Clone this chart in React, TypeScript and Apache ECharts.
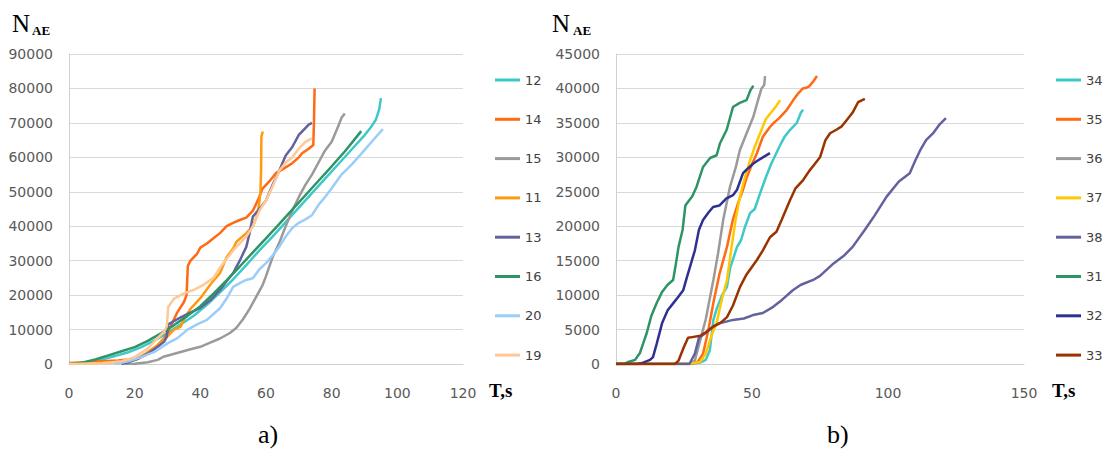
import React, { useEffect, useRef } from "react";
import * as echarts from "echarts";

// ---------- Chart a) ----------
const namesA = ["12", "14", "15", "11", "13", "16", "20", "19"];
const colorsA = ["#3EC8C8", "#FF6A13", "#9A9A9A", "#FF9A10", "#62629E", "#2E9465", "#9ACDFA", "#FFC896"];

const a12 = [[0,0],[3,200],[6,600],[10,1300],[14,2300],[18,3400],[22,4900],[26,6800],[30,9000],[34,11500],[38,14000],[42,17200],[46,20800],[50,24600],[54,28700],[58,33000],[62,37000],[66,41200],[70,45400],[74,49600],[78,53800],[82,58000],[86,62200],[90,66400],[92,68800],[93.5,71000],[94.5,74000],[95,77200]];
const a14 = [[0,300],[5,500],[10,800],[15,1000],[20,1500],[23,2500],[26,4500],[29,7500],[31,11000],[33,15000],[35,18000],[35.8,20000],[36.2,28500],[37,30000],[39,32000],[40,33800],[42,35000],[44,36500],[46,38000],[48,40000],[50,41000],[52,41800],[54,42500],[56,44500],[57.5,47500],[59,51000],[61,53000],[63,55400],[65,56500],[68,58300],[70,60000],[71,61200],[73,62500],[74.4,63600],[74.6,70000],[74.8,80000]];
const a15 = [[17,0],[20,100],[24,500],[27,1200],[29,2200],[31,2700],[34,3500],[37,4300],[40,5000],[43,6200],[46,7400],[49,9000],[51,10500],[53,13000],[55,16000],[57,19500],[59,23000],[60,25500],[62,31000],[64,35100],[66,40000],[68,44500],[70,48500],[72,52000],[74,55000],[76,58500],[78,62000],[80,64500],[82,69000],[83,71500],[84,72700]];
const a11 = [[0,200],[8,300],[14,500],[18,800],[21,1500],[24,3500],[27,5500],[30,8000],[32,10000],[34,10800],[35,13000],[37,16000],[40,19100],[43,23000],[46,26400],[48,31000],[50,33500],[51,35500],[54,38000],[56,40000],[57.2,42800],[58,47000],[58.3,50000],[58.5,56000],[58.6,66000],[59,67500]];
const a13 = [[16,0],[18,500],[21,1500],[24,3000],[27,5000],[29,6500],[29.8,8000],[30.2,11500],[33,13000],[36,14500],[40,16300],[43,18500],[46,21500],[48,24000],[50,26400],[52,30000],[54,34000],[55,38000],[56,42800],[58,45000],[60,47500],[62,52000],[64,56000],[66,60500],[68,63000],[70,66500],[72,68500],[73,69500],[74,70000]];
const a16 = [[0,0],[4,400],[8,1300],[12,2500],[16,3700],[20,4900],[24,6700],[28,8900],[32,11300],[36,13900],[40,16800],[44,20400],[48,24300],[52,28300],[56,32400],[60,36500],[64,40600],[68,44800],[72,49000],[76,53200],[80,57400],[84,61700],[89,67600]];
const a20 = [[14,0],[18,800],[22,2000],[26,3500],[30,6000],[33,7500],[36,9900],[39,11500],[42,12800],[44,14500],[46,16200],[48,19000],[50,22400],[52,23500],[54,24400],[56,24900],[58,27500],[60,29300],[62,31500],[64,34000],[66,37000],[68,39500],[70,41000],[72,42000],[74,43200],[76,46200],[78,48500],[80,51000],[83,55000],[86,57800],[89,61000],[92,64300],[95.6,68200]];
const a19 = [[0,0],[10,200],[16,800],[20,2000],[24,4500],[27,7500],[29,9500],[29.8,11000],[30.2,16500],[32,19000],[35,20500],[38,21500],[41,23000],[44,25000],[46,28000],[48,30500],[50,33000],[52,35000],[54,37000],[56,40000],[58,44500],[60,47500],[62,51500],[64,56000],[66,58500],[68,60000],[70,62500],[72,64500],[74,65500]];
const dataA = [a12, a14, a15, a11, a13, a16, a20, a19];

// ---------- Chart b) ----------
const namesB = ["34", "35", "36", "37", "38", "31", "32", "33"];
const colorsB = ["#3EC8C8", "#FF6A13", "#9A9A9A", "#FFC800", "#62629E", "#2E9465", "#2E3192", "#9A3300"];

const b34 = [[0,0],[28,0],[31,200],[33,600],[34.5,2000],[35.8,6400],[37,8000],[39,10000],[40.8,11200],[42,14000],[44.5,17000],[46,18000],[47.5,20000],[49.3,21900],[51,22500],[53,24800],[55,27000],[57,29000],[60,31500],[62,33000],[64,34000],[66.5,35000],[68,36500],[68.8,36900]];
const b35 = [[0,0],[27,0],[30,300],[32,1500],[34,5000],[35.8,8900],[38,13000],[40.8,17000],[43,21000],[45,23500],[46.7,25300],[48,27000],[50,29000],[51.8,30600],[54,33000],[56.6,34400],[58,35000],[60,35700],[62.8,36900],[65,38200],[67,39300],[68.7,40000],[70,40100],[71,40300],[72.5,41000],[73.9,41800]];
const b36 = [[0,0],[27,0],[29,500],[31,3500],[33,6500],[35.8,12200],[37.5,16000],[39.4,20900],[41.9,25700],[44,28500],[45.5,31000],[47.5,33000],[50.5,35900],[52,38000],[53.5,40000],[54.5,40500],[54.8,41800]];
const b37 = [[0,0],[25,0],[28,100],[31,300],[33,1500],[35,4000],[37,6000],[39,9500],[40.8,12200],[42.5,17000],[44,21000],[45.6,24300],[47,26500],[49.3,29600],[51,31500],[53,33500],[55,35500],[57,36500],[59,37500],[60.3,38300]];
const b38 = [[0,0],[27,0],[29,1500],[30.5,3800],[33,4500],[35.7,5400],[38,5900],[43,6400],[47,6600],[50.4,7100],[54,7400],[57.8,8300],[61,9300],[65,10700],[68,11500],[72.5,12200],[75,12800],[80,14600],[84,15800],[87,17000],[91.5,19500],[95,21500],[99.5,24300],[104,26500],[108,27700],[110,29500],[111.8,31000],[114,32500],[116.6,33500],[119,34800],[121.3,35700]];
const b31 = [[0,0],[3,0],[4.5,300],[7,600],[8.8,1600],[10,3000],[11.3,4500],[13,7000],[15,8900],[17,10500],[19,11500],[21,12200],[22,14500],[23,17000],[24.5,19500],[25.5,23000],[27,23800],[28,24300],[29.6,25700],[32,28600],[34.6,29900],[37,30300],[38.2,32000],[40.7,34000],[43,37300],[45.5,37900],[48,38300],[49.5,39800],[50.5,40400]];
const b32 = [[0,0],[8,0],[10,200],[12.5,600],[13.6,1000],[15,3000],[17,6000],[19,7800],[21,8800],[23,9800],[24.7,10700],[26,12500],[27.5,14500],[29,16500],[30.5,19500],[32,20900],[34,22000],[35.7,22800],[38,23000],[40.5,24000],[43,24500],[44.5,25300],[46.7,27700],[48,28200],[50.5,29100],[52,29500],[54,30000],[56.6,30600]];
const b33 = [[0,0],[21.7,0],[23,500],[25,2500],[26.5,3800],[28,3900],[31,4100],[33,4600],[36,5500],[38.5,6000],[40.8,6800],[43,8500],[45.6,11200],[48,13000],[51.8,15100],[54,16500],[56.6,18400],[59,19200],[61,21000],[64,23800],[66,25500],[68.8,26700],[71,28000],[73,29000],[75,30000],[77,32500],[78.7,33500],[81,34000],[83,34500],[85,35500],[87,36500],[89,38000],[91.5,38500]];
const dataB = [b34, b35, b36, b37, b38, b31, b32, b33];

const axisFont = "DejaVu Sans";
const serif = "Liberation Serif";

export default function App() {
  const ref = useRef<HTMLDivElement>(null);
  useEffect(() => {
    if (!ref.current) return;
    const chart = echarts.init(ref.current, undefined, { renderer: "svg" });

    const plain = (v: number) => String(v);
    const mkX = (gi: number, max: number, interval: number) => ({
      type: "value",
      gridIndex: gi,
      min: 0,
      max,
      interval,
      axisLine: { show: true, lineStyle: { color: "#D0D0D0", width: 1 } },
      axisTick: { show: false },
      splitLine: { show: false },
      axisLabel: { color: "#595959", fontSize: 14, fontFamily: axisFont, margin: 22, formatter: plain },
    });
    const mkY = (gi: number, max: number, interval: number) => ({
      type: "value",
      gridIndex: gi,
      min: 0,
      max,
      interval,
      axisLine: { show: true, lineStyle: { color: "#D0D0D0", width: 1 } },
      axisTick: { show: false },
      splitLine: { show: true, lineStyle: { color: "#D9D9D9", width: 1 } },
      axisLabel: { color: "#595959", fontSize: 14, fontFamily: axisFont, margin: 16, formatter: plain },
    });
    const mkLegend = (names: string[], left: number) => ({
      data: names,
      orient: "vertical",
      left,
      top: 67,
      icon: "rect",
      itemWidth: 25,
      itemHeight: 3,
      itemGap: 23.3,
      selectedMode: false,
      textStyle: { color: "#404040", fontSize: 13, fontFamily: axisFont, lineHeight: 16 },
    });

    const series: any[] = [];
    namesA.forEach((n, i) =>
      series.push({
        name: n,
        type: "line",
        xAxisIndex: 0,
        yAxisIndex: 0,
        data: dataA[i],
        showSymbol: false,
        color: colorsA[i],
        lineStyle: { width: 2.5, color: colorsA[i] },
      })
    );
    namesB.forEach((n, i) =>
      series.push({
        name: n,
        type: "line",
        xAxisIndex: 1,
        yAxisIndex: 1,
        data: dataB[i],
        showSymbol: false,
        color: colorsB[i],
        lineStyle: { width: 2.5, color: colorsB[i] },
      })
    );

    const txt = (text: string, x: number, y: number, size: number, weight: string) => ({
      type: "text",
      x,
      y,
      style: { text, fontSize: size, fontFamily: serif, fontWeight: weight, fill: "#000", align: "left", verticalAlign: "middle" },
    });

    chart.setOption({
      animation: false,
      backgroundColor: "#ffffff",
      grid: [
        { left: 69, top: 54, width: 394, height: 310 },
        { left: 616, top: 54, width: 408, height: 310 },
      ],
      xAxis: [mkX(0, 120, 20), mkX(1, 150, 50)],
      yAxis: [mkY(0, 90000, 10000), mkY(1, 45000, 5000)],
      legend: [mkLegend(namesA, 490), mkLegend(namesB, 1051)],
      series,
      graphic: [
        txt("N", 12, 23, 25, "normal"),
        txt("AE", 32, 30, 13, "bold"),
        txt("N", 552, 23, 25, "normal"),
        txt("AE", 573, 30, 13, "bold"),
        txt("T,s", 489, 390, 19, "bold"),
        txt("T,s", 1052, 390, 19, "bold"),
        txt("a)", 258, 434, 26, "normal"),
        txt("b)", 827, 434, 26, "normal"),
      ],
    });
    return () => chart.dispose();
  }, []);
  return <div ref={ref} style={{ position: "absolute", left: 0, top: 0, width: 1107, height: 452 }} />;
}
